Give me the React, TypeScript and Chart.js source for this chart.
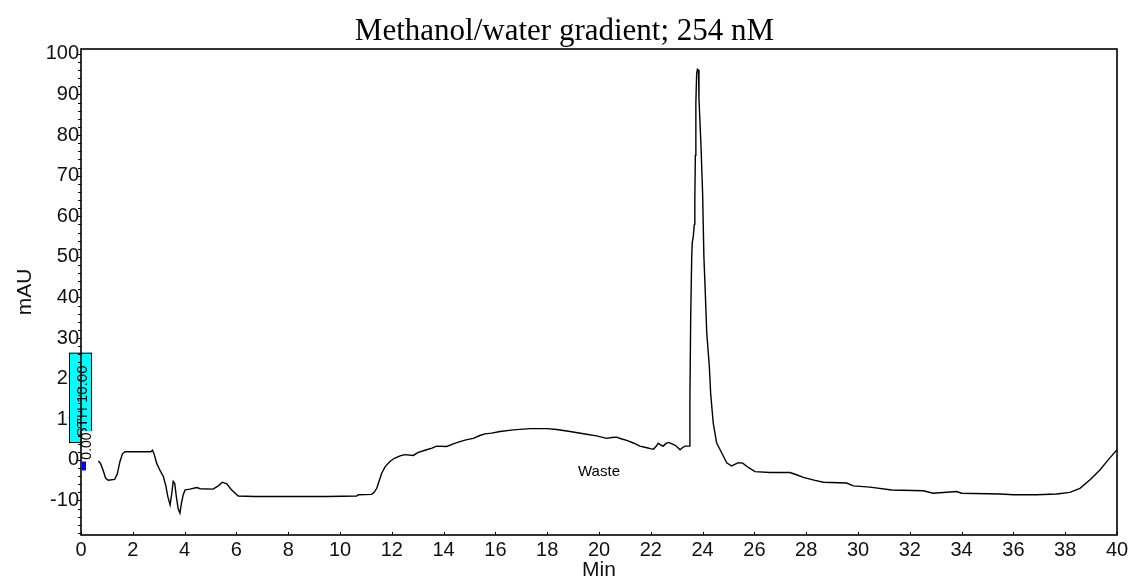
import React, { useEffect, useRef } from "react";
import { Chart, registerables } from "chart.js";

Chart.register(...registerables);

// Chromatogram trace: retention time (min) and detector response (mAU)
const retentionTime = [
  0.67, 0.75, 0.85, 0.95, 1.05, 1.3, 1.4, 1.5, 1.6, 1.7, 2.0, 2.4, 2.7, 2.76, 2.82,
  2.92, 3.05, 3.18, 3.28, 3.35, 3.44, 3.5, 3.56, 3.62, 3.68, 3.75, 3.82, 3.88, 3.95,
  4.02, 4.2, 4.47, 4.6, 5.1, 5.3, 5.46, 5.63, 5.8, 6.07, 6.7, 7.5, 8.5, 9.5, 10.64,
  10.71, 11.22, 11.32, 11.42, 11.52, 11.61, 11.75, 11.93, 12.1, 12.32, 12.5, 12.83,
  13.0, 13.34, 13.55, 13.73, 14.12, 14.4, 14.63, 14.9, 15.15, 15.4, 15.6, 15.85,
  16.18, 16.69, 17.34, 17.98, 18.37, 18.88, 19.52, 19.9, 20.3, 20.5, 20.68, 20.85,
  21.07, 21.35, 21.58, 21.85, 22.1, 22.2, 22.29, 22.4, 22.48, 22.58, 22.68, 22.8,
  22.94, 23.05, 23.13, 23.22, 23.32, 23.49, 23.51, 23.54, 23.58, 23.6, 23.64, 23.68,
  23.7, 23.72, 23.74, 23.77, 23.8, 23.84, 23.86, 23.94, 24.0, 24.05, 24.09, 24.16,
  24.26, 24.31, 24.41, 24.54, 24.74, 24.93, 25.12, 25.38, 25.55, 25.75, 26.02, 26.6,
  27.37, 27.6, 27.89, 28.3, 28.66, 29.56, 29.82, 30.46, 31.3, 32.52, 32.9, 33.81, 34.0,
  35.48, 36.0, 36.9, 37.67, 38.18, 38.57, 38.96, 39.34, 39.66, 40.0,
];

const absorbance = [
  -0.3, -0.8, -2.5, -4.5, -5.0, -4.8, -3.5, -0.5, 1.5, 2.0, 2.0, 2.0, 2.0, 2.4, 1.5,
  -0.8, -2.6, -4.1, -6.5, -9.0, -11.1, -8.5, -5.3, -5.8, -9.0, -12.0, -13.1, -10.6, -8.5,
  -7.4, -7.2, -6.8, -7.1, -7.2, -6.4, -5.5, -5.9, -7.3, -8.9, -9.0, -9.0, -9.0, -9.0, -8.9,
  -8.6, -8.5, -8.0, -7.0, -5.0, -3.3, -1.6, -0.4, 0.4, 1.0, 1.3, 1.1,
  1.8, 2.5, 2.9, 3.4, 3.3, 4.0, 4.5, 5.0, 5.3, 6.0, 6.4, 6.6,
  7.0, 7.4, 7.7, 7.7, 7.5, 7.0, 6.3, 5.9, 5.3, 5.5, 5.6, 5.2,
  4.8, 4.1, 3.4, 3.0, 2.6, 3.3, 4.1, 3.6, 3.4, 4.0, 4.3, 4.0,
  3.6, 3.0, 2.5, 3.0, 3.4, 3.4, 15, 35, 50, 53.5, 55, 58,
  64, 75, 88, 95, 96.2, 96, 89, 77, 65.8, 50, 43.6, 31.3,
  23, 16.5, 9.1, 4.2, 1.7, -0.7, -1.5, -0.7, -0.8, -1.8, -2.9, -3.1,
  -3.1, -3.6, -4.3, -5.0, -5.5, -5.7, -6.4, -6.7, -7.4, -7.6, -8.2, -7.8, -8.2,
  -8.4, -8.6, -8.6, -8.4, -8.0, -7.0, -4.9, -2.5, 0, 2.5,
];

// Axis ranges and ticks
const timeRange = [0, 40];
const responseRange = [-18.5, 101.2];
const timeTickStep = 2;
const responseTickStep = 2;
const responseLabelStep = 10;

// Event annotations at the start of the run
const eventTime = 0;
const thresholdBox = [4.4, 26.4];
const thresholdText = "STH 10.00";
const eventValueText = "0.00";
const eventMarkerRange = [-0.4, -2.6];

// Fraction label
const fractionLabel = "Waste";
const fractionAt = [20, -3];

const chartTitle = "Methanol/water gradient; 254 nM";
const xTitle = "Min";
const yTitle = "mAU";

const SANS = "'Liberation Sans', Arial, Helvetica, sans-serif";
const SERIF = "'Liberation Serif', 'Times New Roman', serif";

const decorations = {
  id: "chromDecorations",
  afterDatasetsDraw(chart: any) {
    const { ctx, chartArea: a, scales } = chart;
    const xs = scales.x;
    const ys = scales.y;
    ctx.save();

    // threshold box straddling the y axis
    const ex = xs.getPixelForValue(eventTime);
    const bTop = ys.getPixelForValue(thresholdBox[1]);
    const bBot = ys.getPixelForValue(thresholdBox[0]);
    ctx.fillStyle = "#00ffff";
    ctx.fillRect(ex - 12, bTop, 23, bBot - bTop);
    ctx.strokeStyle = "#000";
    ctx.lineWidth = 1;
    ctx.strokeRect(ex - 11.5, bTop + 0.5, 22, bBot - bTop);

    // plot frame
    ctx.lineWidth = 1.6;
    ctx.strokeStyle = "#000";
    ctx.strokeRect(a.left, a.top, a.right - a.left, a.bottom - a.top);

    // tick marks
    ctx.lineWidth = 1;
    ctx.beginPath();
    ys.ticks.forEach((t: any) => {
      if (Math.abs(t.value / responseTickStep - Math.round(t.value / responseTickStep)) > 1e-6) return;
      const py = Math.round(ys.getPixelForValue(t.value)) + 0.5;
      ctx.moveTo(a.left - 3, py);
      ctx.lineTo(a.left, py);
    });
    xs.ticks.forEach((t: any) => {
      const px = Math.round(xs.getPixelForValue(t.value)) + 0.5;
      ctx.moveTo(px, a.bottom);
      ctx.lineTo(px, a.bottom - 3);
    });
    ctx.stroke();

    // threshold text, rotated
    ctx.fillStyle = "#000";
    ctx.font = `15px ${SANS}`;
    ctx.textAlign = "center";
    ctx.textBaseline = "middle";
    ctx.save();
    ctx.translate(ex + 1.5, (bTop + bBot) / 2 + 4);
    ctx.rotate(-Math.PI / 2);
    ctx.fillText(thresholdText, 0, 0);
    ctx.restore();

    // event value label on white
    const vy = bBot + 2;
    ctx.fillStyle = "#fff";
    ctx.fillRect(ex + 1, vy - 13, 11, 30);
    ctx.fillStyle = "#000";
    ctx.font = `14px ${SANS}`;
    ctx.save();
    ctx.translate(ex + 6, vy + 2);
    ctx.rotate(-Math.PI / 2);
    ctx.fillText(eventValueText, 0, 0);
    ctx.restore();

    // event marker
    const mTop = ys.getPixelForValue(eventMarkerRange[0]);
    const mBot = ys.getPixelForValue(eventMarkerRange[1]);
    ctx.fillStyle = "#0000ff";
    ctx.fillRect(ex + 1, mTop, 4, mBot - mTop);

    // fraction label
    ctx.fillStyle = "#000";
    ctx.font = `15px ${SANS}`;
    ctx.textAlign = "center";
    ctx.textBaseline = "middle";
    ctx.fillText(fractionLabel, xs.getPixelForValue(fractionAt[0]), ys.getPixelForValue(fractionAt[1]));

    ctx.restore();
  },
};

export default function App() {
  const canvasRef = useRef<HTMLCanvasElement | null>(null);

  useEffect(() => {
    const canvas = canvasRef.current;
    if (!canvas) return;
    const points = retentionTime.map((t, i) => ({ x: t, y: absorbance[i] }));
    const chart = new Chart(canvas, {
      type: "line",
      data: {
        datasets: [
          {
            data: points,
            borderColor: "#000",
            borderWidth: 1.4,
            pointRadius: 0,
            tension: 0,
            fill: false,
          },
        ],
      },
      options: {
        animation: false,
        responsive: false,
        devicePixelRatio: 1,
        events: [],
        layout: { padding: { left: 12, right: 18, top: 0, bottom: 0 } },
        plugins: {
          legend: { display: false },
          tooltip: { enabled: false },
          title: {
            display: true,
            text: chartTitle,
            color: "#000",
            font: { family: SERIF, size: 31, weight: "normal", lineHeight: 1.1 },
            padding: { top: 14.9, bottom: 0 },
          },
        },
        scales: {
          x: {
            type: "linear",
            min: timeRange[0],
            max: timeRange[1],
            grid: { display: false, drawTicks: false },
            border: { display: false },
            ticks: {
              stepSize: timeTickStep,
              autoSkip: false,
              includeBounds: false,
              maxRotation: 0,
              padding: 3.4,
              color: "#111",
              font: { family: SANS, size: 20 },
            },
            title: {
              display: true,
              text: xTitle,
              color: "#111",
              font: { family: SANS, size: 21 },
              padding: { top: 0, bottom: 2.7 },
            },
            afterFit: (s: any) => {
              s.height = 51;
            },
          },
          y: {
            type: "linear",
            min: responseRange[0],
            max: responseRange[1],
            grid: { display: false, drawTicks: false },
            border: { display: false },
            ticks: {
              stepSize: responseTickStep,
              autoSkip: false,
              includeBounds: false,
              padding: 2,
              color: "#111",
              font: { family: SANS, size: 20 },
              callback: (v: any) => {
                const n = Number(v);
                return Math.abs(n / responseLabelStep - Math.round(n / responseLabelStep)) < 1e-6
                  ? String(Math.round(n))
                  : "";
              },
            },
            title: {
              display: true,
              text: yTitle,
              color: "#111",
              font: { family: SANS, size: 21 },
              padding: { top: 0.4, bottom: 0 },
            },
            afterFit: (s: any) => {
              s.width = 69;
            },
          },
        },
      },
      plugins: [decorations],
    });
    return () => chart.destroy();
  }, []);

  return (
    <div style={{ position: "fixed", left: 0, top: 0, width: 1135, height: 586, background: "#fff" }}>
      <canvas ref={canvasRef} width={1135} height={586} style={{ display: "block" }} />
    </div>
  );
}
